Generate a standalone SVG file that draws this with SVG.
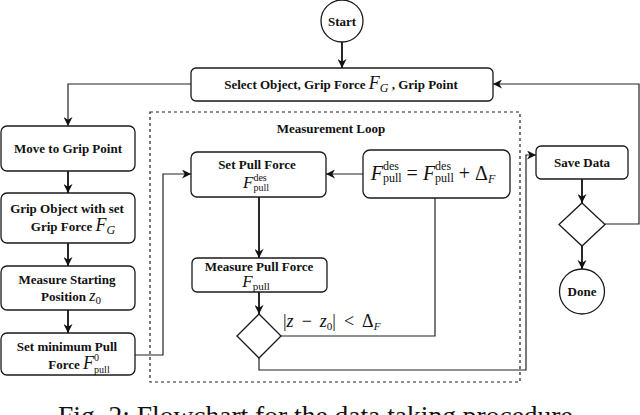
<svg xmlns="http://www.w3.org/2000/svg" width="640" height="415" viewBox="0 0 640 415">
<style>
.box{fill:#fff;stroke:#1a1a1a;stroke-width:1.3}
.lbl{font-family:"Liberation Serif","Times New Roman",serif;font-weight:700;font-size:13px;fill:#111;text-anchor:middle}
.m{font-family:"Liberation Serif","Times New Roman",serif;font-weight:400;fill:#111;stroke:none}
.it{font-style:italic}
.thick{fill:none;stroke:#111;stroke-width:1.8}
.thin{fill:none;stroke:#222;stroke-width:1.2}
.dash{fill:none;stroke:#222;stroke-width:1.2;stroke-dasharray:3,3}
.cap{font-family:"Liberation Serif","Times New Roman",serif;font-size:27.5px;fill:#111}
</style>
<defs>
<marker id="arr" viewBox="0 0 10 10" refX="10" refY="5" markerWidth="9" markerHeight="9" markerUnits="userSpaceOnUse" orient="auto">
<path d="M0,0 L10,5 L0,10 L3,5 z" fill="#111"/>
</marker>
</defs>

<rect id="measurement-loop" class="dash" x="150" y="112" width="370" height="270"/>
<text class="lbl" x="331" y="133">Measurement Loop</text>

<g id="connectors">
<path class="thick" d="M342,42 V68" marker-end="url(#arr)"/>
<path class="thin" d="M191,84 H68 V126" marker-end="url(#arr)"/>
<path class="thick" d="M68,171 V193" marker-end="url(#arr)"/>
<path class="thick" d="M68,243 V266" marker-end="url(#arr)"/>
<path class="thick" d="M68,310 V333" marker-end="url(#arr)"/>
<path class="thin" d="M135,355 H163 V174 H191" marker-end="url(#arr)"/>
<path class="thin" d="M363,174 H326" marker-end="url(#arr)"/>
<path class="thick" d="M259,197 V258" marker-end="url(#arr)"/>
<path class="thick" d="M259,292 V314" marker-end="url(#arr)"/>
<path class="thin" d="M281,336 H435 V198"/>
<path class="thin" d="M259,358 V370 H526 V155 H536" marker-end="url(#arr)"/>
<path class="thick" d="M582,179 V203" marker-end="url(#arr)"/>
<path class="thick" d="M582,246 V269" marker-end="url(#arr)"/>
<path class="thin" d="M605,224 H639 V84 H493" marker-end="url(#arr)"/>
<text class="m" x="283" y="327" font-size="18"><tspan>|</tspan><tspan class="it">z</tspan><tspan dx="8">−</tspan><tspan class="it" dx="8">z</tspan><tspan font-size="11" dy="3">0</tspan><tspan dy="-3">|</tspan><tspan dx="8">&lt;</tspan><tspan dx="8">Δ</tspan><tspan class="it" font-size="11" dy="3">F</tspan></text>
</g>

<g id="start">
<circle class="box" cx="342" cy="21" r="21"/>
<text class="lbl" x="342" y="26">Start</text>
</g>

<g id="select">
<rect class="box" x="191" y="68" width="302" height="33" rx="5"/>
<text class="lbl" x="341" y="89">Select Object, Grip Force <tspan class="m it" font-size="18">F</tspan><tspan class="m it" font-size="12" dy="3">G</tspan><tspan dy="-3"> ,  Grip Point</tspan></text>
</g>

<g id="move">
<rect class="box" x="1" y="126" width="134" height="45" rx="6"/>
<text class="lbl" x="68" y="153">Move to Grip Point</text>
</g>

<g id="grip">
<rect class="box" x="1" y="193" width="134" height="50" rx="6"/>
<text class="lbl" x="67" y="213">Grip Object with set</text>
<text class="lbl" x="73" y="231">Grip Force <tspan class="m it" font-size="18">F</tspan><tspan class="m it" font-size="12" dy="3">G</tspan></text>
</g>

<g id="measure-start">
<rect class="box" x="1" y="266" width="134" height="44" rx="6"/>
<text class="lbl" x="67" y="284">Measure Starting</text>
<text class="lbl" x="71" y="301">Position <tspan class="m it" font-size="16">z</tspan><tspan class="m" font-size="11" dy="3">0</tspan></text>
</g>

<g id="set-min">
<rect class="box" x="1" y="333" width="134" height="42" rx="6"/>
<text class="lbl" x="67" y="351">Set minimum Pull</text>
<text class="lbl" x="79" y="369">Force <tspan class="m it" font-size="18">F</tspan><tspan class="m" font-size="10" dy="-8">0</tspan><tspan class="m" font-size="10" dx="-5" dy="12">pull</tspan></text>
</g>

<g id="set-pull">
<rect class="box" x="191" y="152" width="135" height="45" rx="6"/>
<text class="lbl" x="257" y="169">Set Pull Force</text>
<text class="m" x="256" y="188" font-size="17" text-anchor="middle"><tspan class="it">F</tspan><tspan font-size="10" dy="-7">des</tspan><tspan font-size="10" dx="-13.3" dy="10">pull</tspan></text>
</g>

<g id="update">
<rect class="box" x="363" y="150" width="147" height="48" rx="7"/>
<text class="m" x="433" y="180" font-size="20" text-anchor="middle"><tspan class="it">F</tspan><tspan font-size="12" dy="-10">des</tspan><tspan font-size="12" dx="-16" dy="12">pull</tspan><tspan dy="-2"> = </tspan><tspan class="it">F</tspan><tspan font-size="12" dy="-10">des</tspan><tspan font-size="12" dx="-16" dy="12">pull</tspan><tspan dy="-2"> + Δ</tspan><tspan class="it" font-size="12" dy="3">F</tspan></text>
</g>

<g id="measure-pull">
<rect class="box" x="192" y="258" width="135" height="34" rx="5"/>
<text class="lbl" x="259" y="271">Measure Pull Force</text>
<text class="m" x="256" y="287" font-size="17" text-anchor="middle"><tspan class="it">F</tspan><tspan font-size="11" dy="3">pull</tspan></text>
</g>

<g id="decision-loop">
<polygon class="box" points="259,314 281,336 259,358 237,336"/>
</g>

<g id="save">
<rect class="box" x="536" y="146" width="92" height="33" rx="5"/>
<text class="lbl" x="582" y="167">Save Data</text>
</g>

<g id="decision-done">
<polygon class="box" points="582,203 605,224.5 582,246 559,224.5"/>
</g>

<g id="done">
<circle class="box" cx="582" cy="291.5" r="22.5"/>
<text class="lbl" x="582" y="296">Done</text>
</g>

<text class="cap" x="58" y="425">Fig. 2: Flowchart for the data taking procedure</text>
</svg>
